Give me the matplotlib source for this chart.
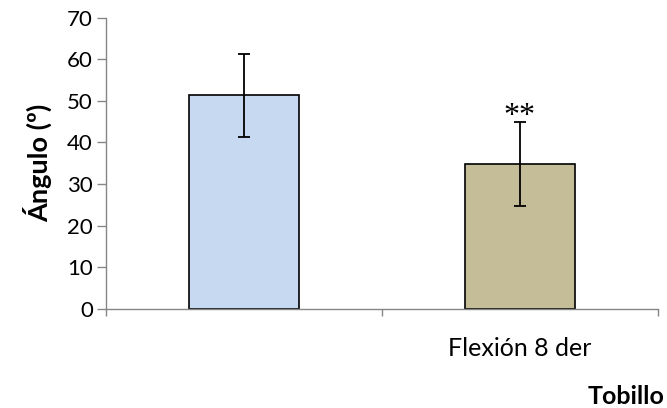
import numpy as np
import matplotlib.pyplot as plt

# Ángulo de flexión del tobillo: media y desviación
categorias = ["", "Flexión 8 der"]
medias = [51.3, 34.8]
errores = [10.0, 10.0]
colores = ["#C6D9F1", "#C4BD97"]
signif = ["", "**"]

plt.rcParams['font.family'] = ['Lato', 'DejaVu Sans']

fig = plt.figure(figsize=(6.67, 4.08), dpi=100)
ax = fig.add_axes([0.159, 0.243, 0.827, 0.714])

x = np.arange(len(medias))
ax.bar(x, medias, width=0.40, color=colores, edgecolor="black", linewidth=1.2, zorder=2)
ax.errorbar(x, medias, yerr=errores, fmt="none", ecolor="black", elinewidth=1.3,
            capsize=4.3, capthick=1.3, zorder=3)

for xi, m, e, s in zip(x, medias, errores, signif):
    if s:
        ax.text(xi, m + e - 0.5, s, ha="center", va="baseline", fontsize=23,
                family=["Liberation Serif", "DejaVu Serif"])

ax.set_xlim(-0.5, 1.5)
ax.set_ylim(0, 70)
ax.set_yticks(np.arange(0, 71, 10))
ax.tick_params(axis="y", labelsize=16, length=6.5, width=1, color="#868686", pad=3)

# marcas del eje x en los bordes de cada categoría, etiquetas centradas
ax.set_xticks([-0.5, 0.5, 1.5])
ax.set_xticklabels([])
ax.set_xticks(x, minor=True)
ax.set_xticklabels(categorias, minor=True)
ax.tick_params(axis="x", which="major", length=5, width=1, color="#868686")
ax.tick_params(axis="x", which="minor", length=0, labelsize=18, pad=20)

for lado in ["top", "right"]:
    ax.spines[lado].set_visible(False)
for lado in ["left", "bottom"]:
    ax.spines[lado].set_color("#868686")
    ax.spines[lado].set_linewidth(1)

ax.set_ylabel("Ángulo (º)", fontsize=19.5, fontweight="bold", labelpad=11)
fig.text(0.997, 0.011, "Tobillo", ha="right", va="baseline", fontsize=18, fontweight="bold")

fig.savefig("out.png", dpi=100)
